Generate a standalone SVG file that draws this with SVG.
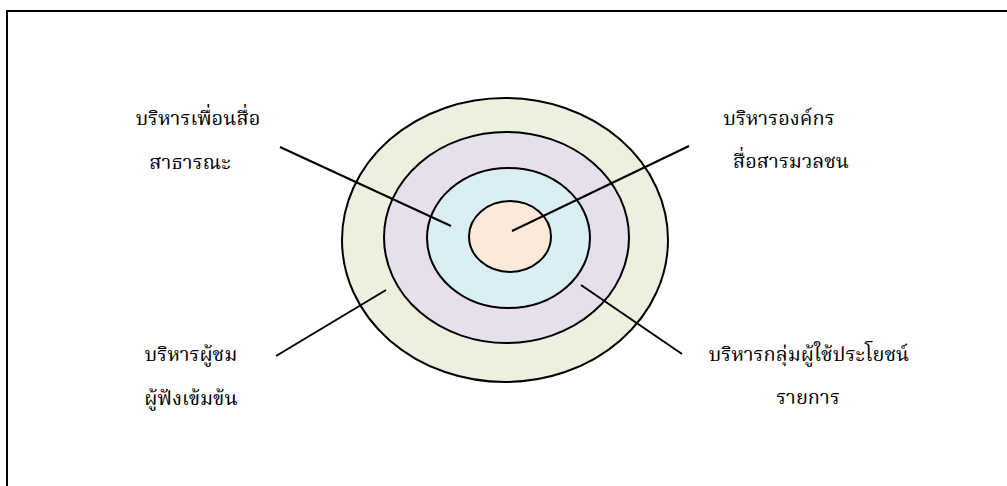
<svg xmlns="http://www.w3.org/2000/svg" width="1007" height="486" viewBox="0 0 1007 486">
<style>
.ring{stroke:#000;stroke-width:2}
.lbl{font-family:"Liberation Serif","Noto Serif Thai","Noto Sans Thai","Noto Sans",serif;font-size:20px;fill:#000;text-anchor:middle}
.conn line{stroke:#000;stroke-width:2}
</style>
<rect x="0" y="0" width="1007" height="486" fill="#fff"/>
<rect x="7" y="11" width="1010" height="490" fill="none" stroke="#000" stroke-width="2"/>
<g id="ring-outer"><ellipse class="ring" cx="505" cy="240" rx="163" ry="142" fill="#EBF1DE"/></g>
<g id="ring-2"><ellipse class="ring" cx="506.5" cy="237.5" rx="122.5" ry="105.5" fill="#E5E0EC"/></g>
<g id="ring-3"><ellipse class="ring" cx="508.5" cy="238" rx="81.5" ry="70" fill="#DBEEF4"/></g>
<g id="ring-inner"><ellipse class="ring" cx="510" cy="236.5" rx="41" ry="35.5" fill="#FDE9D9"/></g>
<g id="connectors" class="conn">
<line x1="280" y1="147" x2="451" y2="226"/>
<line x1="689" y1="146" x2="512" y2="231"/>
<line x1="276" y1="356" x2="386" y2="290"/>
<line x1="581" y1="285" x2="682" y2="354"/>
</g>
<g id="label-tl"><text class="lbl" x="198" y="125">บริหารเพื่อนสื่อ</text><text class="lbl" x="190" y="169">สาธารณะ</text></g>
<g id="label-tr"><text class="lbl" x="779" y="125">บริหารองค์กร</text><text class="lbl" x="791" y="168">สื่อสารมวลชน</text></g>
<g id="label-bl"><text class="lbl" x="191" y="361">บริหารผู้ชม</text><text class="lbl" x="191" y="405">ผู้ฟังเข้มข้น</text></g>
<g id="label-br"><text class="lbl" x="809" y="361">บริหารกลุ่มผู้ใช้ประโยชน์</text><text class="lbl" x="808" y="404">รายการ</text></g>
</svg>
